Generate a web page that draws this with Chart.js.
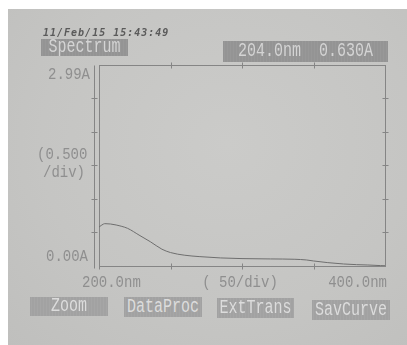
<!DOCTYPE html>
<html>
<head>
<meta charset="utf-8">
<script src="https://cdn.jsdelivr.net/npm/chart.js@4.4.1/dist/chart.umd.min.js"></script>
<style>
  html, body { margin: 0; padding: 0; background: #fff; }
  #sheet { position: relative; width: 407px; height: 345px; overflow: hidden; background: #fff; }
  #paper { position: absolute; left: 8px; top: 9px; right: 0; bottom: 0;
           background: radial-gradient(ellipse at 55% 40%, #cbcbc9 0%, #c5c5c3 60%, #bfbfbd 100%); }
  canvas { position: absolute; left: 0; top: 0; }
  .t { position: absolute; font-family: 'Liberation Mono', 'DejaVu Sans Mono', monospace;
       white-space: pre; line-height: 1; color: #8f8f8f; font-size: 14px;
       transform-origin: 0 0; transform: scale(1, 1.2); }
  .stamp { position: absolute; left: 43px; top: 28px; font-family: 'DejaVu Sans Mono', monospace;
           font-style: italic; font-weight: bold; font-size: 10px; letter-spacing: 1px;
           color: #5a5a5a; white-space: pre; line-height: 1; }
  .box { position: absolute; display: flex; align-items: center; justify-content: center;
         font-family: 'Liberation Mono', 'DejaVu Sans Mono', monospace; font-size: 15px;
         white-space: pre; color: #d4d4d4; overflow: hidden;
         background: repeating-linear-gradient(90deg, #929292 0px, #9a9a9a 2px, #8e8e8e 3px); }
  .box span { display: inline-block; transform: scale(1, 1.35); }
  .btn { background: repeating-linear-gradient(90deg, #a0a0a0 0px, #a8a8a8 2px, #9c9c9c 3px); color: #dcdcdc; }
</style>
</head>
<body>
<div id="sheet">
  <div id="paper"></div>
  <canvas id="chart" width="407" height="345"></canvas>

  <div class="stamp">11/Feb/15 15:43:49</div>
  <div class="box" style="left:41px;top:39px;width:87px;height:17px;"><span>Spectrum</span></div>
  <div class="box" style="left:223px;top:41px;width:165px;height:21px;"><span>204.0nm  0.630A</span></div>

  <div class="t" style="left:37px;top:146px;">(0.500</div>
  <div class="t" style="left:43px;top:164px;">/div)</div>

  <div class="box btn" style="left:30px;top:297px;width:78px;height:19px;"><span>Zoom</span></div>
  <div class="box btn" style="left:124px;top:297px;width:78px;height:20px;"><span>DataProc</span></div>
  <div class="box btn" style="left:217px;top:298px;width:77px;height:20px;"><span>ExtTrans</span></div>
  <div class="box btn" style="left:312px;top:300px;width:78px;height:20px;"><span>SavCurve</span></div>
</div>

<script>
// Absorbance scan, 200–400 nm
const wavelengths = [200, 202, 204, 208, 212, 220, 228, 236, 244, 250, 260, 270, 285, 300, 320, 337, 345, 350, 360, 371, 380, 388, 397, 400];
const absorbance  = [0.58, 0.61, 0.63, 0.625, 0.61, 0.56, 0.46, 0.36, 0.25, 0.20, 0.16, 0.14, 0.12, 0.11, 0.105, 0.10, 0.09, 0.075, 0.05, 0.03, 0.02, 0.015, 0.006, 0.004];

// Axis ranges and tick marks
const xRange = [200, 400];
const yRange = [0, 2.99];
const xTickMarks = [250, 300, 350];
const yTickMarks = [0.5, 1.0, 1.5, 2.0, 2.5];

// Tick labels: [value, text]
const xTickLabels = [[200, '200.0nm'], [300, '( 50/div)'], [400, '400.0nm']];
const yTickLabels = [[2.99, '2.99A'], [0, '0.00A']];

const inkColor = '#858585';
const labelColor = '#8f8f8f';

const printout = {
  id: 'printout',
  beforeDatasetsDraw(chart) {
    const { ctx, chartArea: a, scales: { x, y } } = chart;
    const seg = (x1, y1, x2, y2) => { ctx.beginPath(); ctx.moveTo(x1, y1); ctx.lineTo(x2, y2); ctx.stroke(); };
    ctx.save();
    ctx.strokeStyle = inkColor;
    ctx.lineWidth = 1;
    const L = Math.round(a.left) + 0.5, R = Math.round(a.right) + 0.5;
    const T = Math.round(a.top) + 0.5, B = Math.round(a.bottom) + 0.5;
    // plot frame
    ctx.strokeRect(L, T, R - L, B - T);
    // outer scale line on the left
    const ox = L - 5;
    seg(ox, T, ox, B + 2);
    seg(L, B, L, B + 3);
    // absorbance ticks on both sides
    yTickMarks.forEach(v => {
      const py = Math.round(y.getPixelForValue(v)) + 0.5;
      seg(ox - 3, py, ox + 3, py);
      seg(R - 3, py, R + 3, py);
    });
    // wavelength ticks on top and bottom
    xTickMarks.forEach(v => {
      const px = Math.round(x.getPixelForValue(v)) + 0.5;
      seg(px, T - 3, px, T + 3);
      seg(px, B - 3, px, B + 3);
    });
    ctx.restore();
  },
  afterDraw(chart) {
    const { ctx, chartArea: a, scales: { x, y } } = chart;
    ctx.save();
    ctx.fillStyle = labelColor;
    ctx.font = "14px 'Liberation Mono', 'DejaVu Sans Mono', monospace";
    const put = (text, px, py, align, base) => {
      ctx.save();
      ctx.translate(px, py);
      ctx.scale(1, 1.2);
      ctx.textAlign = align;
      ctx.textBaseline = base;
      ctx.fillText(text, 0, 0);
      ctx.restore();
    };
    yTickLabels.forEach(([v, text]) => {
      const py = y.getPixelForValue(v);
      if (v === yRange[1]) put(text, a.left - 9, py + 1, 'right', 'top');
      else put(text, a.left - 11, py - 1, 'right', 'bottom');
    });
    xTickLabels.forEach(([v, text]) => {
      const px = x.getPixelForValue(v);
      const align = v === xRange[0] ? 'left' : v === xRange[1] ? 'right' : 'center';
      const dx = v === xRange[0] ? -17 : v === xRange[1] ? 2 : -2;
      put(text, px + dx, a.bottom + 8, align, 'top');
    });
    ctx.restore();
  }
};

new Chart(document.getElementById('chart'), {
  type: 'line',
  data: {
    datasets: [{
      data: wavelengths.map((w, i) => ({ x: w, y: absorbance[i] })),
      borderColor: '#6e6e6e',
      borderWidth: 1,
      pointRadius: 0,
      cubicInterpolationMode: 'monotone',
      fill: false
    }]
  },
  options: {
    responsive: false,
    animation: false,
    layout: { padding: { left: 99, right: 22, top: 65, bottom: 79 } },
    plugins: { legend: { display: false }, tooltip: { enabled: false } },
    scales: {
      x: { type: 'linear', min: xRange[0], max: xRange[1], display: false },
      y: { min: yRange[0], max: yRange[1], display: false }
    }
  },
  plugins: [printout]
});
</script>
</body>
</html>
